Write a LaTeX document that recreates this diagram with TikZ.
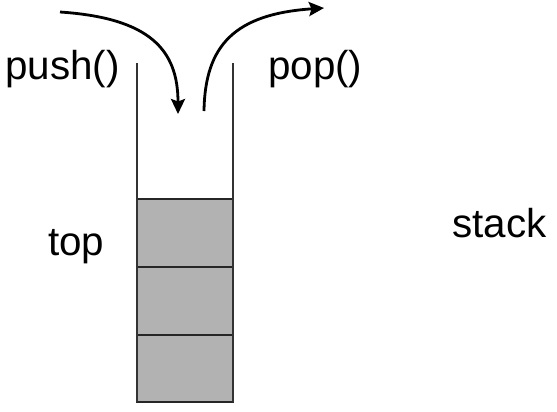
\documentclass[tikz,border=0pt]{standalone}
\usepackage{fontspec}
\setmainfont{Liberation Sans}
\usetikzlibrary{arrows,arrows.meta,positioning}

\begin{document}
\begin{tikzpicture}[x=1bp, y=-1bp]
			\tikzstyle{Label}	= [anchor=base west, inner sep=0pt, font=\fontsize{40.5}{48}\selectfont]
			\tikzstyle{Wall}	= [line width=1.6bp, black!80]
			\tikzstyle{Cell}	= [draw=black!85, line width=2bp, fill=black!30]
			\tikzstyle{Move}	= [line width=2.8bp, -{Stealth[inset=2.5bp, length=15bp, width=14bp]}]

			\useasboundingbox (0,0) rectangle (557,411);

			\node (push) at (5, 79) [Label] {push()};
			\node (pop) at (268, 79) [Label] {pop()};
			\node (top) at (48, 255) [Label] {top};
			\node (stack) at (452, 237) [Label] {stack};

			\coordinate (lt) at (137, 63);
			\coordinate (lb) at (137, 402);
			\coordinate (rt) at (233, 63);
			\coordinate (rb) at (233, 402);

			\draw [Cell] (137, 199) rectangle (233, 267);
			\draw [Cell] (137, 267) rectangle (233, 335);
			\draw [Cell] (137, 335) rectangle (233, 402);

			\draw [-] (lt) to (lb) [Wall];
			\draw [-] (rt) to (rb) [Wall];

			\coordinate (in0) at (60, 12);
			\coordinate (in1) at (178, 114);
			\coordinate (out0) at (204, 111);
			\coordinate (out1) at (324, 8);

			\draw [Move] (in0) .. controls (150, 18) and (178, 50) .. (in1);
			\draw [Move] (out0) .. controls (205, 45) and (235, 14) .. (out1);
		\end{tikzpicture}
\end{document}
